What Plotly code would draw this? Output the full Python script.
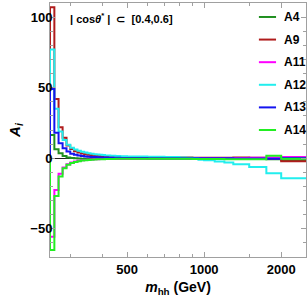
import plotly.graph_objects as go

# bin edges (GeV)
bin_edges = [250, 260, 270, 280, 290, 300, 310, 320, 330, 340, 350, 360, 370, 380, 390, 400,
             410, 420, 430, 440, 450, 460, 470, 480, 490, 500,
             550, 600, 650, 700, 750, 800, 850, 900, 950, 1000,
             1100, 1200, 1300, 1500, 1750, 2000, 2500]

A4 = [16.5, 6.4, 3.5, 1.6, 0.6, 0.2, 0.0, -0.2, -0.3, -0.4, -0.4, -0.4, -0.4, -0.4, -0.4, -0.4,
      -0.4, -0.4, -0.4, -0.4, -0.35, -0.35, -0.3, -0.3, -0.3,
      -0.3, -0.3, -0.3, -0.3, -0.3, -0.3, -0.3, -0.3, -0.3, -0.3,
      -0.3, -0.4, -0.4, -0.4, -0.5, -0.7, -1.5]
A9 = [107, 42, 22, 14.5, 9, 6.5, 5, 4, 3.4, 2.9, 2.5, 2.2, 1.9, 1.7, 1.5, 1.35,
      1.25, 1.2, 1.1, 1.0, 0.95, 0.9, 0.85, 0.8, 0.75,
      0.7, 0.65, 0.6, 0.55, 0.5, 0.5, 0.45, 0.45, 0.4, 0.35,
      0.3, 0.3, 0.4, 0.5, 0.3, -0.3, -2.2]
A11 = [-55.6, -22.5, -11, -6.5, -4.3, -3.0, -2.3, -1.8, -1.5, -1.2, -1.0, -0.9, -0.8, -0.7, -0.6, -0.55,
       -0.5, -0.45, -0.4, -0.4, -0.35, -0.35, -0.3, -0.3, -0.3,
       -0.25, -0.2, -0.2, -0.2, -0.2, -0.2, -0.1, -0.1, -0.1, -0.1,
       0.0, 0.0, 0.0, 0.1, 0.3, 0.5, 0.9]
A12 = [77, 35, 19, 13, 9.5, 7.5, 6.2, 5.3, 4.6, 4.0, 3.5, 3.1, 2.8, 2.6, 2.4, 2.2,
       2.0, 1.9, 1.8, 1.7, 1.6, 1.5, 1.45, 1.4, 1.35,
       1.25, 1.15, 1.1, 1.0, 0.9, 0.8, 0.6, 0.4, 0.1, -1.0,
       -1.5, -2.3, -3.1, -4.2, -6.3, -10.6, -14.2]
A13 = [49, 18, 10.6, 7.1, 4.7, 3.2, 2.5, 2.0, 1.6, 1.3, 1.1, 0.9, 0.8, 0.7, 0.6, 0.5,
       0.45, 0.4, 0.35, 0.3, 0.3, 0.25, 0.2, 0.2, 0.15,
       0.1, 0.1, 0.05, 0.0, 0.0, 0.0, 0.0, 0.0, 0.0, 0.0,
       0.0, 0.0, 0.0, -0.2, -0.2, -0.3, 0.1]
A14 = [-65, -26.7, -13, -7.1, -4.7, -3.3, -2.6, -2.1, -1.7, -1.4, -1.2, -1.0, -0.9, -0.8, -0.7, -0.65,
       -0.6, -0.55, -0.5, -0.5, -0.45, -0.45, -0.4, -0.4, -0.4,
       -0.4, -0.4, -0.4, -0.4, -0.4, -0.4, -0.4, -0.4, -0.5, -0.5,
       -0.6, -0.6, -0.7, -0.7, -0.7, 1.7, -0.3]

series_names = ["A4", "A9", "A11", "A12", "A13", "A14"]
series_values = [A4, A9, A11, A12, A13, A14]
series_colors = ["#1f8f1f", "#b01c1c", "#ff00ff", "#22eeee", "#1414f0", "#22ee22"]

x_tickvals = [500, 1000, 2000]
x_minor = [300, 400, 600, 700, 800, 900, 1500]
y_tickvals = [-50, 0, 50, 100]
y_ticktext = ["\u221250", "0", "50", "100"]

FONT = "Liberation Sans, Arial, sans-serif"

fig = go.Figure()
for name, vals, col in zip(series_names, series_values, series_colors):
    xs = [bin_edges[0]] + bin_edges
    ys = [0] + vals + [vals[-1]]
    fig.add_trace(go.Scatter(x=xs, y=ys, mode="lines", line_shape="hv",
                             line=dict(color=col, width=2), name=name,
                             showlegend=False))

# manual legend (short line samples like the reference)
leg_x0, leg_x1, leg_tx = 0.816, 0.883, 0.905
leg_y_top, leg_dy = 0.945, 0.089
for i, (name, col) in enumerate(zip(series_names, series_colors)):
    yy = leg_y_top - i * leg_dy
    fig.add_shape(type="line", xref="paper", yref="paper", x0=leg_x0, x1=leg_x1, y0=yy, y1=yy,
                  line=dict(color=col, width=2))
    fig.add_annotation(x=leg_tx, y=yy, xref="paper", yref="paper", xanchor="left",
                       yanchor="middle", text=name, showarrow=False,
                       font=dict(family=FONT, size=12, color="black", weight="bold"))

axis_common = dict(showline=True, linecolor="#a0a0a0", linewidth=1, mirror="allticks",
                   ticks="inside", tickcolor="#a0a0a0", showgrid=False,
                   tickfont=dict(family=FONT, size=13, color="black", weight="bold"))

fig.update_xaxes(type="log", range=[2.39794, 3.39794], tickvals=x_tickvals,
                 ticktext=[str(v) for v in x_tickvals], ticklen=5,
                 minor=dict(tickvals=x_minor, ticks="inside", ticklen=3, tickcolor="#a0a0a0"),
                 zeroline=False,
                 title=dict(text="<i>m</i><sub>hh</sub> (GeV)",
                            font=dict(family=FONT, size=14, color="black", weight="bold"),
                            standoff=6),
                 **axis_common)
fig.update_yaxes(range=[-70, 110], tickvals=y_tickvals, ticktext=y_ticktext, ticklen=5,
                 ticklabelstandoff=-6,
                 minor=dict(dtick=10, ticks="inside", ticklen=3, tickcolor="#a0a0a0"),
                 zeroline=True, zerolinecolor="#222222", zerolinewidth=1,
                 title=dict(text="<i>A</i><sub><i>i</i></sub>",
                            font=dict(family=FONT, size=15, color="black", weight="bold"),
                            standoff=6),
                 **axis_common)

fig.add_annotation(x=0.072, y=0.941, xref="paper", yref="paper", xanchor="left", yanchor="middle",
                   text="| cos<i>\u03b8</i><sup>*</sup> |  \u2282  [0.4,0.6]", showarrow=False,
                   font=dict(family=FONT, size=11, color="black", weight="bold"))

fig.update_layout(
    width=307, height=302,
    margin=dict(l=50, r=1, t=3, b=45),
    plot_bgcolor="white", paper_bgcolor="white",
    showlegend=False,
)

fig.write_html("out.html", config={"displayModeBar": False})

# remove default page margin so the figure sits at the window's top-left corner
with open("out.html", "r", encoding="utf-8") as f:
    html = f.read()
html = html.replace("<head>", "<head><style>html,body{margin:0;padding:0;overflow:hidden;}</style>", 1)
with open("out.html", "w", encoding="utf-8") as f:
    f.write(html)
